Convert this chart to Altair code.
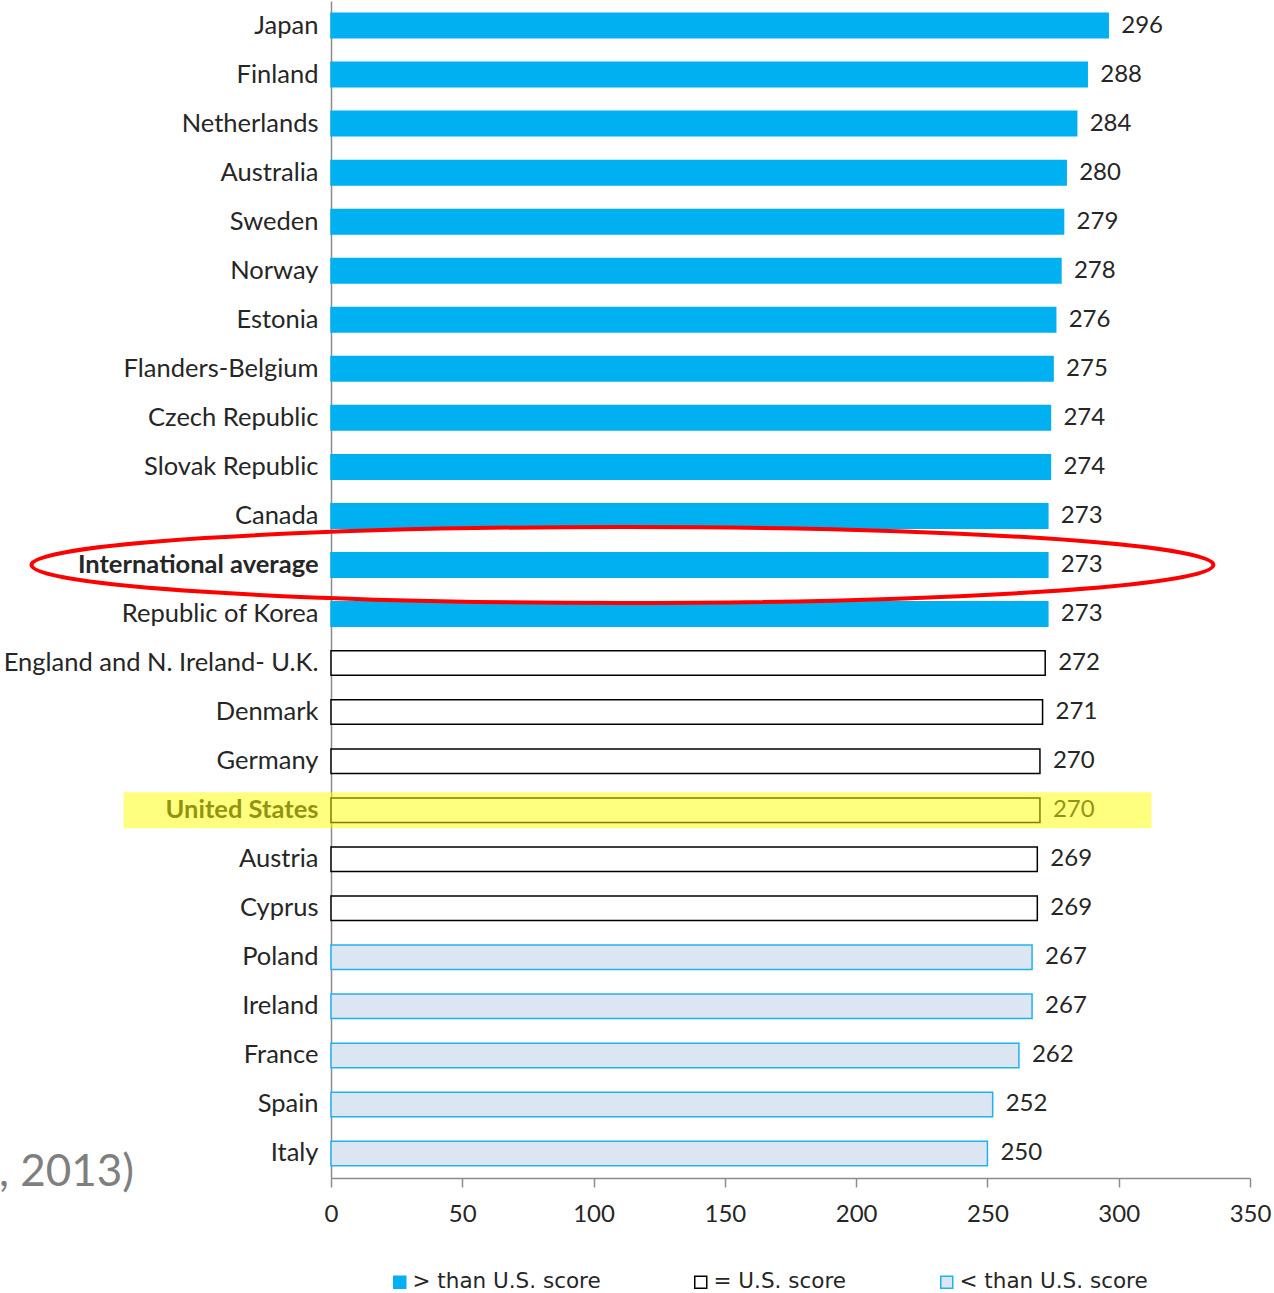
import altair as alt
import pandas as pd

countries = ["Japan", "Finland", "Netherlands", "Australia", "Sweden", "Norway",
             "Estonia", "Flanders-Belgium", "Czech Republic", "Slovak Republic",
             "Canada", "International average", "Republic of Korea",
             "England and N. Ireland- U.K.", "Denmark", "Germany", "United States",
             "Austria", "Cyprus", "Poland", "Ireland", "France", "Spain", "Italy"]
scores = [296, 288, 284, 280, 279, 278, 276, 275, 274, 274, 273, 273, 273,
          272, 271, 270, 270, 269, 269, 267, 267, 262, 252, 250]
group_names = ["> than U.S. score", "= U.S. score", "< than U.S. score"]
groups = [group_names[0]] * 13 + [group_names[1]] * 6 + [group_names[2]] * 5

highlight_row = ["United States"]
highlight_start = [-79]
highlight_end = [312.5]
ellipse_row = ["International average"]
ellipse_center = [111]
note_text = [", 2013)"]
note_row = ["Italy"]
note_x = [-75]

fill_colors = ["#00B0F0", "#FFFFFF", "#DCE6F2"]
stroke_colors = ["#00B0F0", "#000000", "#1FB3EC"]

df = pd.DataFrame({"country": countries, "score": scores, "group": groups})
hl = pd.DataFrame({"country": highlight_row, "x0": highlight_start, "x1": highlight_end})
el = pd.DataFrame({"country": ellipse_row, "x": ellipse_center})
note = pd.DataFrame({"country": note_row, "x": note_x, "t": note_text})

FONT = "Lato"
TXT = "#262626"

xscale = alt.Scale(domain=[0, 350], nice=False, zero=True)
yscale = alt.Scale(domain=countries, paddingInner=0.5, paddingOuter=0.25)

label_weight = alt.expr(
    "indexof(['International average','United States'], datum.value) >= 0 ? 'bold' : 'normal'")

x_enc = alt.X("score:Q", scale=xscale, title=None,
              axis=alt.Axis(values=[0, 50, 100, 150, 200, 250, 300, 350], grid=False,
                            tickSize=9, tickColor="#8c8c8c", domainColor="#8c8c8c",
                            domainWidth=1.5, tickWidth=1.5, labelPadding=15,
                            labelFlush=False, labelOverlap=False,
                            labelFont=FONT, labelFontSize=24, labelColor=TXT))
y_enc = alt.Y("country:N", scale=yscale, sort=countries, title=None,
              axis=alt.Axis(ticks=False, labelPadding=13, domainColor="#8c8c8c",
                            domainWidth=1.5, labelFont=FONT, labelFontSize=25.5,
                            labelColor=TXT, labelFontWeight=label_weight,
                            labelLimit=400))

legend_opts = dict(title=None, orient="none", direction="horizontal",
                   legendX=58, legendY=1270, padding=0,
                   symbolType="square", symbolSize=144,
                   symbolStrokeWidth=1.5, labelOffset=2,
                   columnPadding=89, labelFont="DejaVu Sans",
                   labelFontSize=21.5, labelColor=TXT, labelLimit=400)

bars = alt.Chart(df).mark_bar(strokeWidth=1.5).encode(
    x=x_enc,
    y=y_enc,
    fill=alt.Fill("group:N",
                  scale=alt.Scale(domain=group_names, range=fill_colors),
                  legend=alt.Legend(**legend_opts)),
    stroke=alt.Stroke("group:N",
                      scale=alt.Scale(domain=group_names, range=stroke_colors),
                      legend=alt.Legend(**legend_opts)),
)

labels = alt.Chart(df).mark_text(align="left", baseline="middle", dx=13,
                                 font=FONT, fontSize=24, color=TXT).encode(
    x=alt.X("score:Q", scale=xscale),
    y=alt.Y("country:N", scale=yscale, sort=countries),
    text=alt.Text("score:Q"),
)

ellipse_path = ("M -1 0 C -1 -0.0355 -0.5523 -0.0643 0 -0.0643 "
                "C 0.5523 -0.0643 1 -0.0355 1 0 "
                "C 1 0.0355 0.5523 0.0643 0 0.0643 "
                "C -0.5523 0.0643 -1 0.0355 -1 0 Z")
ellipse = alt.Chart(el).mark_point(shape=ellipse_path, size=1182 ** 2, filled=False,
                                   stroke="#FF0000", strokeWidth=4, opacity=1).encode(
    x=alt.X("x:Q", scale=xscale),
    y=alt.Y("country:N", scale=yscale, sort=countries),
)

highlight = alt.Chart(hl).mark_bar(size=36, color="#FFFF00", opacity=0.5).encode(
    x=alt.X("x0:Q", scale=xscale),
    x2="x1:Q",
    y=alt.Y("country:N", scale=yscale, sort=countries),
)

note_mark = alt.Chart(note).mark_text(align="right", baseline="middle", dy=20,
                                      font=FONT, fontSize=44, color="#7f7f7f").encode(
    x=alt.X("x:Q", scale=xscale),
    y=alt.Y("country:N", scale=yscale, sort=countries),
    text="t:N",
)

chart = alt.layer(bars, labels, ellipse, highlight, note_mark).properties(
    width=919, height=1177,
    autosize=alt.AutoSizeParams(type="none"),
    padding={"left": 331, "top": 1, "right": 24, "bottom": 115},
    background="white",
).configure_view(stroke=None)

chart.save("out.html", embed_options={"renderer": "svg", "actions": False})
